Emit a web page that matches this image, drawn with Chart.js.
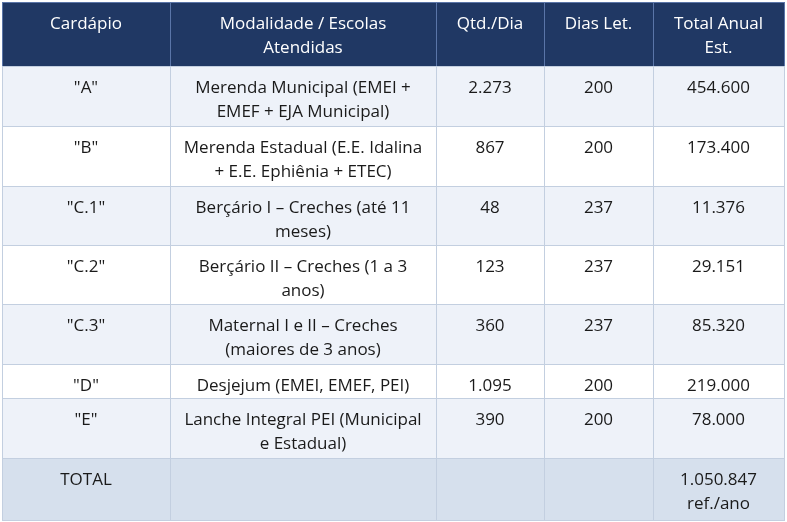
<!DOCTYPE html>
<html>
<head>
<meta charset="utf-8">
<script src="https://cdn.jsdelivr.net/npm/chart.js@4"></script>
<style>
  html, body { margin: 0; padding: 0; background: #fff; }
  #wrap { width: 787px; height: 522px; }
</style>
</head>
<body>
<div id="wrap"><canvas id="tabela" width="787" height="522"></canvas></div>
<script>
// dados da tabela
const cabecalho = ["Cardápio", "Modalidade / Escolas\nAtendidas", "Qtd./Dia", "Dias Let.", "Total Anual\nEst."]
const cardapios = ['"A"', '"B"', '"C.1"', '"C.2"', '"C.3"', '"D"', '"E"']
const modalidades = [
    "Merenda Municipal (EMEI +\nEMEF + EJA Municipal)",
    "Merenda Estadual (E.E. Idalina\n+ E.E. Ephiênia + ETEC)",
    "Berçário I – Creches (até 11\nmeses)",
    "Berçário II – Creches (1 a 3\nanos)",
    "Maternal I e II – Creches\n(maiores de 3 anos)",
    "Desjejum (EMEI, EMEF, PEI)",
    "Lanche Integral PEI (Municipal\ne Estadual)"
]
const qtdDia = ["2.273", "867", "48", "123", "360", "1.095", "390"]
const diasLetivos = ["200", "200", "237", "237", "237", "200", "200"]
const totalAnual = ["454.600", "173.400", "11.376", "29.151", "85.320", "219.000", "78.000"]
const totalGeral = ["TOTAL", "", "", "", "1.050.847\nref./ano"]

// layout (limites das colunas e linhas)
const colunas = [2, 170, 436, 544, 653, 784]
const linhas = [2, 66, 126, 186, 245, 304, 364, 398, 458, 520]

const corpo = cardapios.map((c, i) => [c, modalidades[i], qtdDia[i], diasLetivos[i], totalAnual[i]])
const todas = [cabecalho, ...corpo, totalGeral]

const tabelaPlugin = {
    id: 'tabela',
    afterDraw(chart) {
        const ctx = chart.ctx
        const x = chart.scales.x, y = chart.scales.y
        ctx.save()
        todas.forEach((linha, r) => {
            const y0 = y.getPixelForValue(linhas[r]), y1 = y.getPixelForValue(linhas[r + 1])
            let fundo = '#ffffff'
            if (r === 0) fundo = '#203864'
            else if (r === todas.length - 1) fundo = '#d6e0ed'
            else if (r % 2 === 1) fundo = '#eef2f9'
            linha.forEach((txt, c) => {
                const x0 = x.getPixelForValue(colunas[c]), x1 = x.getPixelForValue(colunas[c + 1])
                ctx.fillStyle = fundo
                ctx.fillRect(x0, y0, x1 - x0, y1 - y0)
                ctx.strokeStyle = r === 0 ? '#5a75a8' : '#c3cfe0'
                ctx.lineWidth = 1
                ctx.strokeRect(x0 + 0.5, y0 + 0.5, x1 - x0, y1 - y0)
                ctx.fillStyle = r === 0 ? '#ffffff' : '#1a1a1a'
                ctx.font = '17px "Open Sans", sans-serif'
                ctx.textAlign = 'center'
                ctx.textBaseline = 'middle'
                txt.split('\n').forEach((t, k) => {
                    ctx.fillText(t, (x0 + x1) / 2, y0 + 22 + k * 24)
                })
            })
        })
        ctx.restore()
    }
}

new Chart(document.getElementById('tabela'), {
    type: 'scatter',
    data: { datasets: [{ data: [] }] },
    options: {
        responsive: false,
        animation: false,
        layout: { padding: 0 },
        plugins: { legend: { display: false }, tooltip: { enabled: false } },
        scales: {
            x: { type: 'linear', min: 0, max: 787, display: false },
            y: { type: 'linear', min: 0, max: 522, reverse: true, display: false }
        }
    },
    plugins: [tabelaPlugin]
})
</script>
</body>
</html>
